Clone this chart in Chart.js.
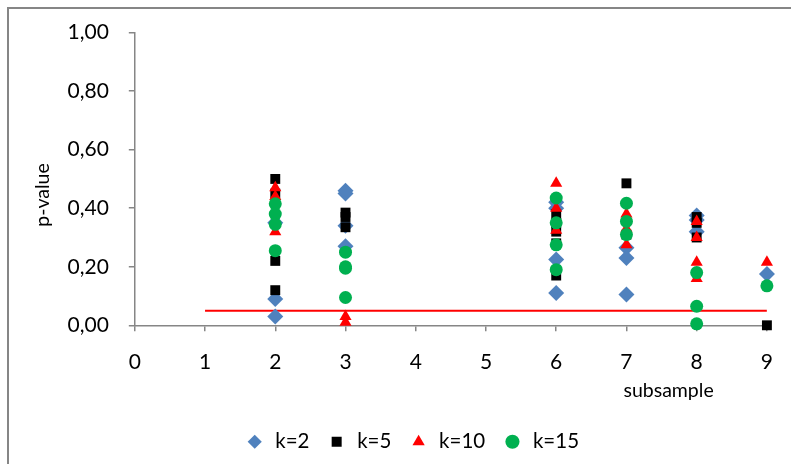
<!DOCTYPE html>
<html lang="en">

<head>
    <meta charset="UTF-8">
    <title>p-value por subsample</title>
    <script src="https://cdn.jsdelivr.net/npm/chart.js"></script>
    <style>
        body { margin: 0; background: #ffffff; }
        .grafico { position: relative; width: 791px; height: 464px; }
    </style>
</head>

<body>
    <div class="grafico">
        <canvas id="myChartCanvas"></canvas>
    </div>
</body>

<script>

    // subsamples where values were recorded
    const subsamples = [2, 3, 6, 7, 8, 9];

    // p-values per subsample, one list for each k
    const k2Values = [[0.35, 0.09, 0.03], [0.46, 0.45, 0.34, 0.27], [0.42, 0.40, 0.225, 0.11], [0.265, 0.23, 0.105], [0.375, 0.36, 0.32], [0.175]];
    const k5Values = [[0.50, 0.45, 0.22, 0.12], [0.385, 0.37, 0.335], [0.38, 0.35, 0.32, 0.28, 0.17], [0.485, 0.31], [0.37, 0.35, 0.30], [0.00]];
    const k10Values = [[0.47, 0.44, 0.32], [0.03, 0.01], [0.485, 0.40, 0.325], [0.38, 0.33, 0.275], [0.355, 0.30, 0.215, 0.16], [0.215]];
    const k15Values = [[0.415, 0.38, 0.345, 0.255], [0.25, 0.20, 0.195, 0.095], [0.435, 0.35, 0.275, 0.19], [0.417, 0.355, 0.31], [0.18, 0.065, 0.005], [0.135]];

    // 0,05 reference line
    const limiteX = [1, 9];
    const limiteY = [0.05, 0.05];

    const xTicks = [0, 1, 2, 3, 4, 5, 6, 7, 8, 9];
    const yTicks = [0, 0.2, 0.4, 0.6, 0.8, 1.0];

    const fonte = 'Lato, "Open Sans", sans-serif';
    const corEixo = '#868686';

    function montarPontos(valores) {
        let pontos = [];
        for (let i = 0; i < subsamples.length; i++) {
            valores[i].forEach(v => pontos.push({ x: subsamples[i], y: v }));
        }
        return pontos;
    }

    function formatar(valor) {
        return valor.toFixed(2).replace('.', ',');
    }

    // frame of the chart (only left and top edges are inside the picture)
    const moldura = {
        id: 'moldura',
        beforeDraw(chart) {
            const ctx = chart.ctx;
            ctx.save();
            ctx.strokeStyle = corEixo;
            ctx.lineWidth = 2;
            ctx.beginPath();
            ctx.moveTo(8, chart.height + 5);
            ctx.lineTo(8, 8);
            ctx.lineTo(chart.width + 5, 8);
            ctx.stroke();
            ctx.restore();
        }
    };

    // axis titles placed like in the excel chart
    const titulosEixos = {
        id: 'titulosEixos',
        afterDraw(chart) {
            const ctx = chart.ctx;
            const x = chart.scales.x;
            const y = chart.scales.y;
            ctx.save();
            ctx.fillStyle = '#000000';
            ctx.font = '19.5px ' + fonte;
            ctx.textAlign = 'center';
            ctx.textBaseline = 'middle';
            ctx.fillText('subsample', x.getPixelForValue(7.6), x.top + 65);

            ctx.translate(43, y.getPixelForValue(0.445));
            ctx.rotate(-Math.PI / 2);
            ctx.fillText('p-value', 0, 0);
            ctx.restore();
        }
    };

    const dados = {
        datasets: [
            {
                label: 'k=15',
                data: montarPontos(k15Values),
                pointStyle: 'circle',
                pointRadius: 6.5,
                backgroundColor: '#00B050',
                borderColor: '#00B050',
                borderWidth: 0,
                clip: false
            },
            {
                label: 'k=10',
                data: montarPontos(k10Values),
                pointStyle: 'triangle',
                pointRadius: 7,
                backgroundColor: '#FF0000',
                borderColor: '#FF0000',
                borderWidth: 0,
                clip: false
            },
            {
                label: 'k=5',
                data: montarPontos(k5Values),
                pointStyle: 'rect',
                pointRadius: 7,
                backgroundColor: '#000000',
                borderColor: '#000000',
                borderWidth: 0,
                clip: false
            },
            {
                label: 'k=2',
                data: montarPontos(k2Values),
                pointStyle: 'rectRot',
                pointRadius: 8,
                backgroundColor: '#4F81BD',
                borderColor: '#4F81BD',
                borderWidth: 0,
                clip: false
            },
            {
                label: 'limite',
                data: limiteX.map((v, i) => ({ x: v, y: limiteY[i] })),
                showLine: true,
                pointRadius: 0,
                borderColor: '#FF0000',
                borderWidth: 2,
                backgroundColor: '#FF0000'
            }
        ]
    };

    const config = {
        type: 'scatter',
        data: dados,
        options: {
            responsive: true,
            maintainAspectRatio: false,
            animation: false,
            layout: { padding: { left: 47.5, right: 15, top: 19.5, bottom: 2 } },
            plugins: {
                tooltip: { enabled: false },
                legend: {
                    position: 'bottom',
                    reverse: true,
                    labels: {
                        usePointStyle: true,
                        boxHeight: 10,
                        padding: 17,
                        color: '#000000',
                        font: { family: fonte, size: 20.5 },
                        filter: item => item.text != 'limite'
                    }
                }
            },
            scales: {
                x: {
                    type: 'linear',
                    min: 0,
                    max: 9,
                    afterBuildTicks: axis => { axis.ticks = xTicks.map(v => ({ value: v })); },
                    // extra room under the labels for the axis title
                    afterFit: scale => { scale.height += 22; },
                    ticks: {
                        color: '#000000',
                        padding: 18,
                        font: { family: fonte, size: 21 },
                        callback: v => String(v)
                    },
                    grid: { drawOnChartArea: false, tickLength: 6, color: corEixo, lineWidth: 1.5 },
                    border: { color: corEixo, width: 1.5 }
                },
                y: {
                    type: 'linear',
                    min: 0,
                    max: 1,
                    afterBuildTicks: axis => { axis.ticks = yTicks.map(v => ({ value: v })); },
                    ticks: {
                        color: '#000000',
                        padding: 20,
                        font: { family: fonte, size: 21 },
                        callback: v => formatar(v)
                    },
                    grid: { drawOnChartArea: false, tickLength: 6, color: corEixo, lineWidth: 1.5 },
                    border: { color: corEixo, width: 1.5 }
                }
            }
        },
        plugins: [moldura, titulosEixos]
    };

    let myChart = new Chart(document.getElementById('myChartCanvas'), config);

</script>

</html>
